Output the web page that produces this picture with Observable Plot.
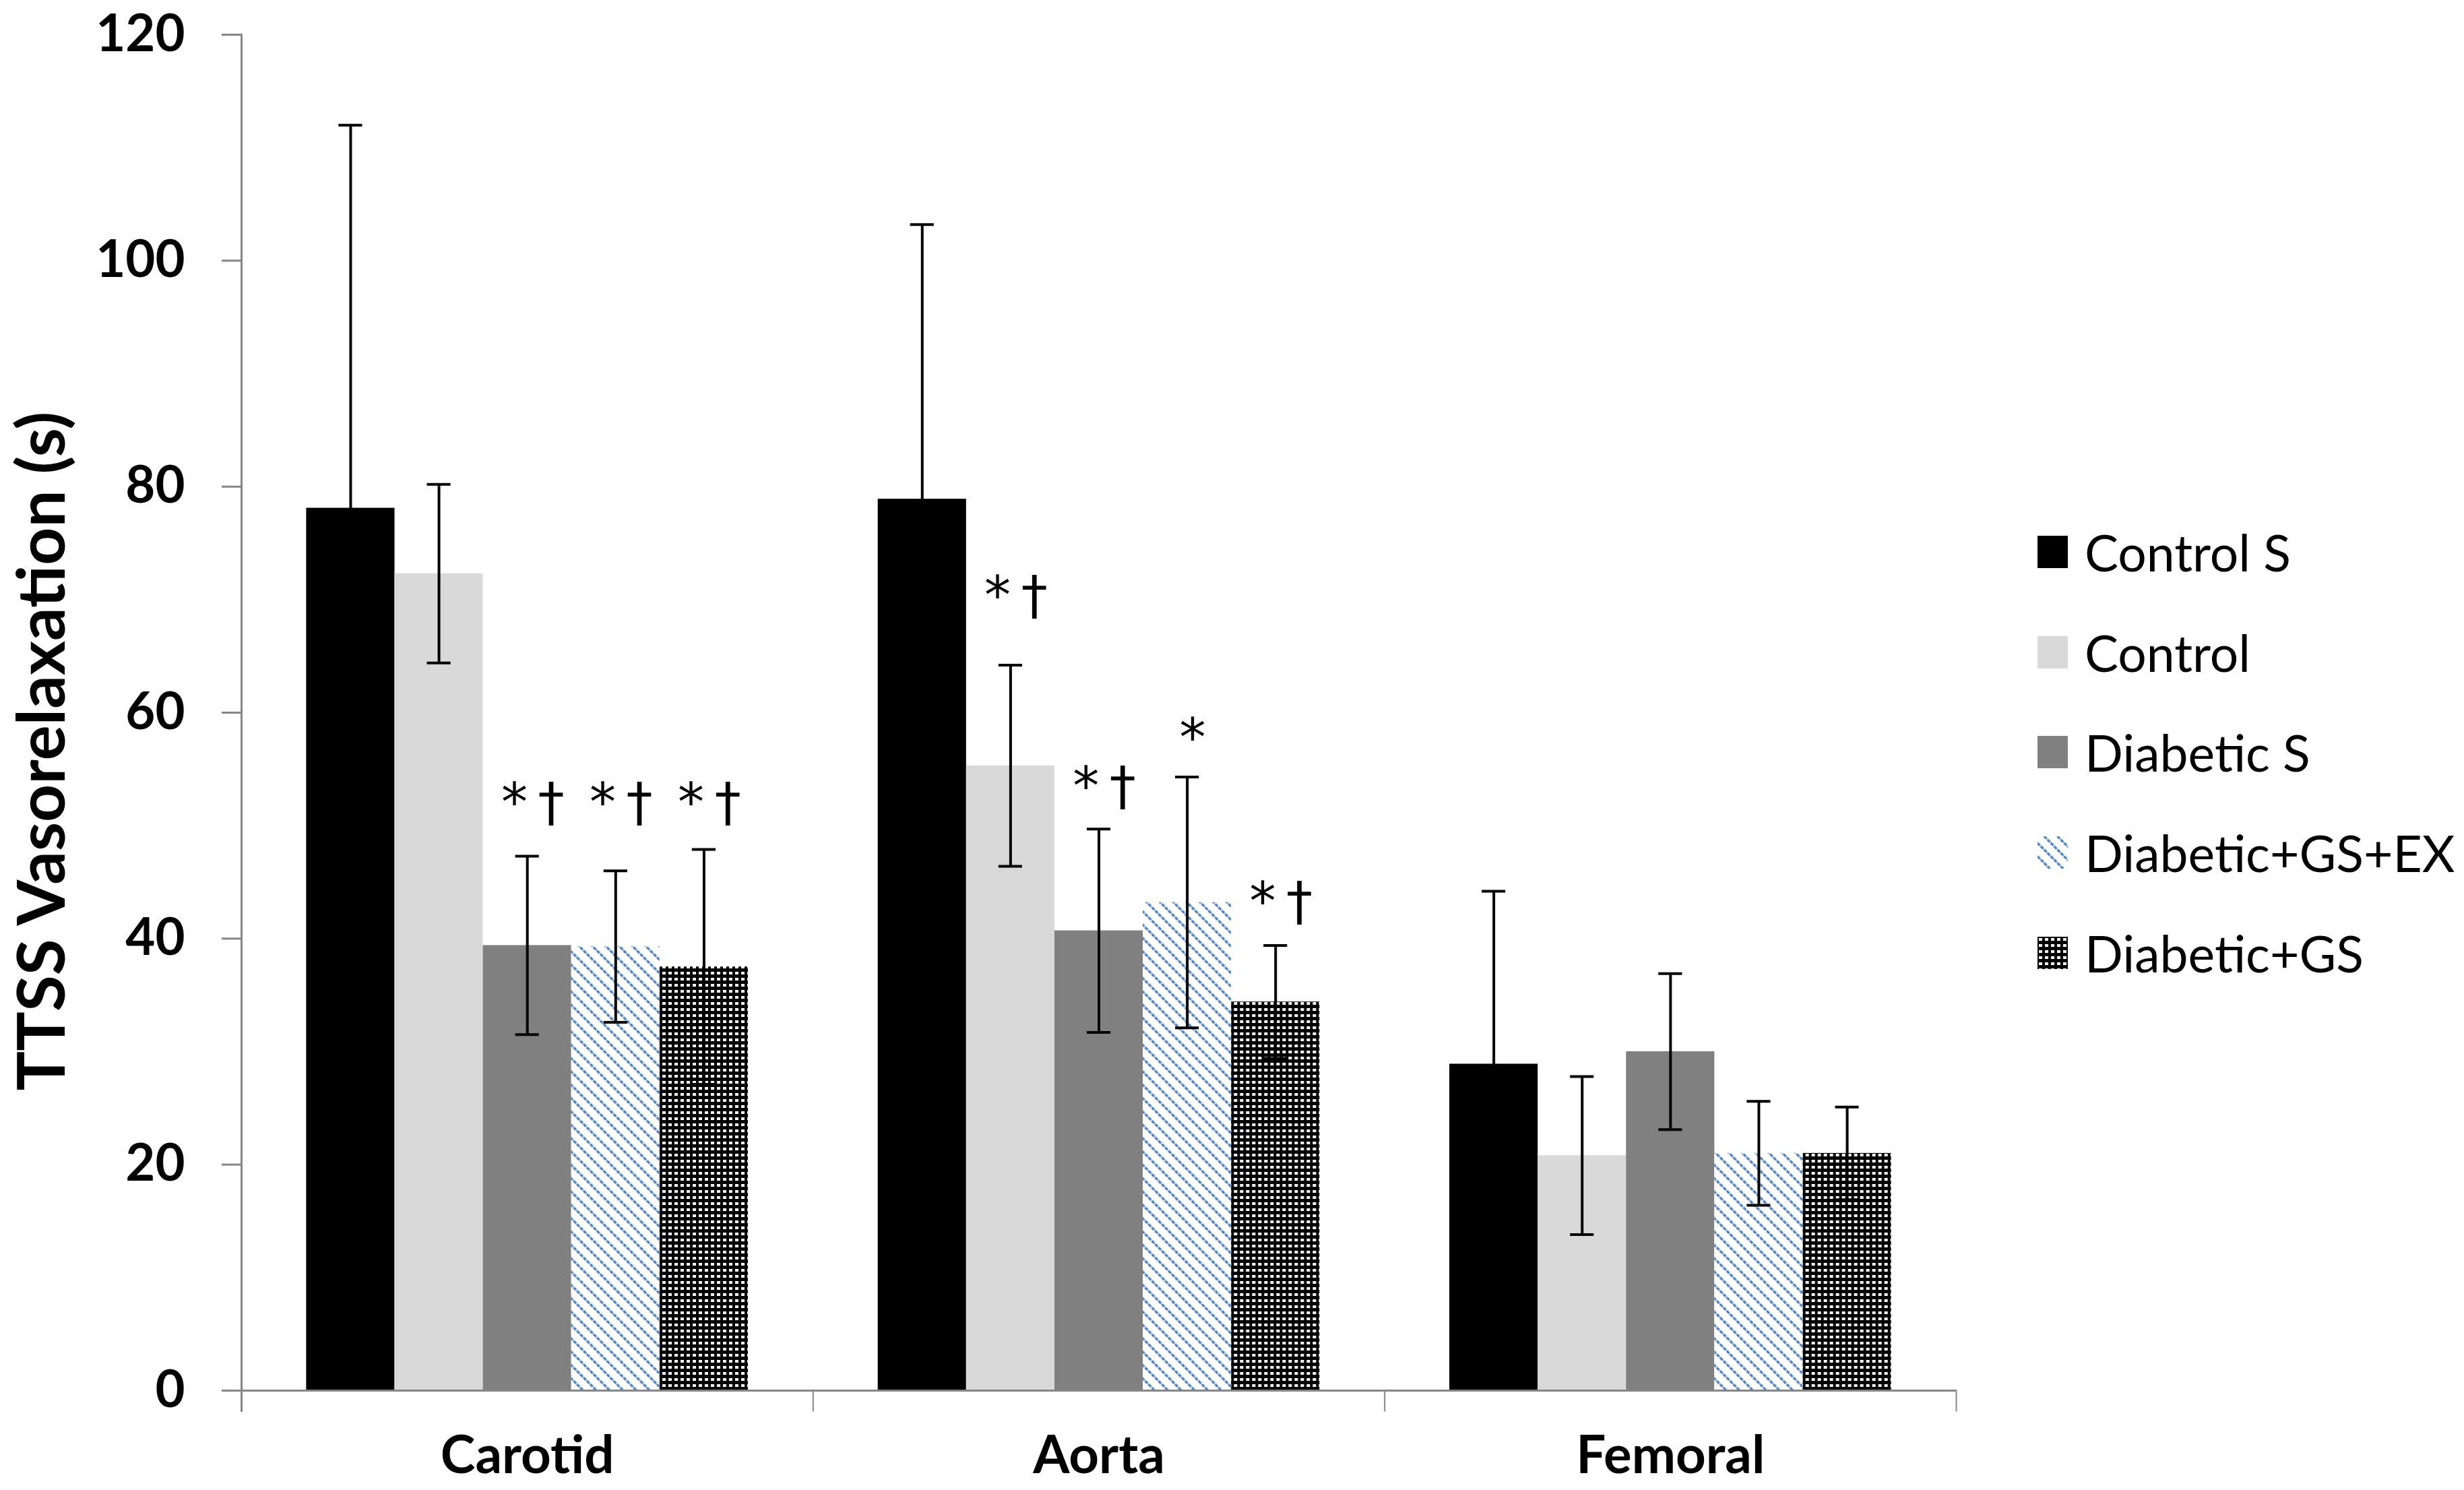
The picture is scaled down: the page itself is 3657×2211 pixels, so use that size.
<!DOCTYPE html>
<html><head><meta charset="utf-8">
<script src="https://cdn.jsdelivr.net/npm/d3@7"></script>
<script src="https://cdn.jsdelivr.net/npm/@observablehq/plot@0.6"></script>
<style>
html,body{margin:0;padding:0;background:#fff;}
#wrap{position:relative;width:3657px;height:2211px;font-family:Lato, sans-serif;overflow:hidden;}
#wrap > svg{position:absolute;left:0;top:0;}
#legend{position:absolute;left:3024px;top:0;}
.row{position:absolute;left:0;display:flex;align-items:center;white-space:nowrap;font-size:75px;height:100px;color:#000;}
.row svg{margin-right:25px;flex:none;}
</style></head><body><div id="wrap"></div>
<script>
const vessels = ["Carotid", "Aorta", "Femoral"];
const groups = ["Control S", "Control", "Diabetic S", "Diabetic+GS+EX", "Diabetic+GS"];
const carotidMean = [78.1, 72.3, 39.4, 39.3, 37.5];
const carotidSD   = [33.9, 7.9, 7.9, 6.7, 10.4];
const aortaMean   = [78.9, 55.3, 40.7, 43.2, 34.4];
const aortaSD     = [24.3, 8.9, 9.0, 11.1, 5.0];
const femoralMean = [28.9, 20.8, 30.0, 21.0, 21.0];
const femoralSD   = [15.3, 7.0, 6.9, 4.6, 4.1];
const yTicks = [0, 20, 40, 60, 80, 100, 120];
const yLabel = "TTSS Vasorelaxation (s)";
const annVessel = ["Carotid", "Carotid", "Carotid", "Aorta", "Aorta", "Aorta", "Aorta"];
const annGroup  = ["Diabetic S", "Diabetic+GS+EX", "Diabetic+GS", "Control", "Diabetic S", "Diabetic+GS+EX", "Diabetic+GS"];
const annText   = ["*\u2009†", "*\u2009†", "*\u2009†", "*\u2009†", "*\u2009†", "*", "*\u2009†"];
const annY      = [52.0, 52.0, 52.0, 70.3, 53.4, 57.7, 43.2];

const fills = ["#000000", "#d9d9d9", "#808080", "url(#pGSEX)", "url(#pGS)"];

const meansBy = {Carotid: carotidMean, Aorta: aortaMean, Femoral: femoralMean};
const sdBy = {Carotid: carotidSD, Aorta: aortaSD, Femoral: femoralSD};
const rows = [];
for (const v of vessels) groups.forEach((g, i) => rows.push({vessel: v, group: g, mean: meansBy[v][i], sd: sdBy[v][i]}));
const ann = annText.map((t, i) => ({vessel: annVessel[i], group: annGroup[i], text: t, y: annY[i]}));

function patternDefs(suffix) {
  return `<defs>
  <pattern id="pGSEX${suffix}" patternUnits="userSpaceOnUse" width="14" height="14" patternTransform="rotate(-45)">
    <rect width="14" height="14" fill="#ffffff"/>
    <line x1="7" y1="0" x2="7" y2="14" stroke="#c5d6ec" stroke-width="3"/>
    <line x1="7" y1="0" x2="7" y2="14" stroke="#4a7ebb" stroke-width="3.2" stroke-dasharray="5 2"/>
  </pattern>
  <pattern id="pGS${suffix}" patternUnits="userSpaceOnUse" width="9" height="9">
    <rect width="9" height="9" fill="#000000"/>
    <rect x="2" y="2" width="5" height="4" fill="#ffffff"/>
  </pattern></defs>`;
}

const axisGrey = "#868686";
const chart = Plot.plot({
  width: 3657,
  height: 2211,
  marginLeft: 358,
  marginRight: 754,
  marginTop: 51,
  marginBottom: 148,
  style: {fontFamily: "Lato, sans-serif", background: "transparent", overflow: "visible"},
  fx: {domain: vessels, padding: 0, round: false},
  x: {domain: groups, paddingInner: 0, paddingOuter: 0.735, round: false, axis: null},
  y: {domain: [0, 120]},
  color: {domain: groups, range: fills},
  marks: [
    Plot.barY(rows, {fx: "vessel", x: "group", y: "mean", fill: "group"}),
    Plot.ruleX(rows, {fx: "vessel", x: "group", y1: d => d.mean - d.sd, y2: d => d.mean + d.sd, stroke: "#000", strokeWidth: 4}),
    Plot.tickY(rows, {fx: "vessel", x: "group", y: d => d.mean + d.sd, stroke: "#000", strokeWidth: 4, insetLeft: 48, insetRight: 48}),
    Plot.tickY(rows, {fx: "vessel", x: "group", y: d => d.mean - d.sd, stroke: "#000", strokeWidth: 4, insetLeft: 48, insetRight: 48}),
    Plot.ruleY([0], {stroke: axisGrey, strokeWidth: 3}),
    Plot.frame({anchor: "left", facetAnchor: "left", stroke: axisGrey, strokeWidth: 3, insetBottom: -30}),
    Plot.frame({anchor: "left", stroke: axisGrey, strokeWidth: 2, insetTop: 2012, insetBottom: -30}),
    Plot.frame({anchor: "right", facetAnchor: "right", stroke: axisGrey, strokeWidth: 2, insetTop: 2012, insetBottom: -30}),
    Plot.text(ann, {fx: "vessel", x: "group", y: "y", text: "text", fontSize: 78, lineAnchor: "middle", dx: 8, fill: "#000", fontFamily: "DejaVu Sans"}),
    Plot.axisY({ticks: yTicks, tickSize: 29, tickPadding: 55, fontSize: 76, fontWeight: "bold", stroke: axisGrey, strokeWidth: 3, fill: "#000", label: null}),
    Plot.axisFx({anchor: "bottom", tickSize: 0, tickPadding: 67, fontSize: 78, fontWeight: "bold", fill: "#000", label: null}),
    Plot.text([yLabel], {fx: () => "Carotid", text: d => d, frameAnchor: "left", textAnchor: "middle", rotate: -90, dx: -294, dy: 57, fontSize: 98, fontWeight: "bold", lineAnchor: "middle", fill: "#000"})
  ]
});

const wrap = document.getElementById("wrap");
wrap.appendChild(chart);
const svgEl = chart.tagName.toLowerCase() === "svg" ? chart : chart.querySelector("svg");
svgEl.insertAdjacentHTML("afterbegin", patternDefs(""));

// legend
const legend = document.createElement("div");
legend.id = "legend";
const centers = [819, 968, 1116, 1265, 1414];
groups.forEach((g, i) => {
  const row = document.createElement("div");
  row.className = "row";
  row.style.top = (centers[i] - 50) + "px";
  const f = fills[i].startsWith("url") ? fills[i].replace(")", "L)") : fills[i];
  row.innerHTML = `<svg width="45" height="48">${patternDefs("L")}<rect width="45" height="48" fill="${f}"/></svg><span>${g}</span>`;
  legend.appendChild(row);
});
wrap.appendChild(legend);
</script>
</body></html>
